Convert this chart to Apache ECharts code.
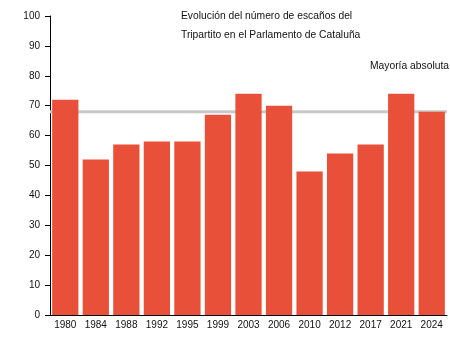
<!DOCTYPE html>
<html><head><meta charset="utf-8">
<script src="https://cdn.jsdelivr.net/npm/echarts@6/dist/echarts.min.js"></script>
<style>html,body{margin:0;padding:0;background:#fff}#c{width:450px;height:360px}</style>
</head><body><div id="c"></div>
<script>
var years = ['1980','1984','1988','1992','1995','1999','2003','2006','2010','2012','2017','2021','2024'];
var seats = [72,52,57,58,58,67,74,70,48,54,57,74,68];
var majority = 68;
var yTicks = {min:0, max:100, interval:10};
var titleLines = ['Evolución del número de escaños del','Tripartito en el Parlamento de Cataluña'];
var majorityLabel = 'Mayoría absoluta';
var FONT = '"Liberation Sans", Arial, sans-serif';
var chart = echarts.init(document.getElementById('c'), null, {renderer:'canvas'});
chart.setOption({
  animation:false,
  textStyle:{fontFamily:FONT},
  grid:{left:50, right:3, top:16, bottom:45},
  graphic:[
    {type:'text', left:181, top:11, style:{text:titleLines[0], fontSize:10.3, fontFamily:FONT, fill:'#111'}},
    {type:'text', left:181, top:30, style:{text:titleLines[1], fontSize:10.3, fontFamily:FONT, fill:'#111'}},
    {type:'text', right:1, top:61, style:{text:majorityLabel, fontSize:10.3, fontFamily:FONT, fill:'#111'}}
  ],
  xAxis:[{type:'category', data:years,
    axisLine:{lineStyle:{color:'#000', width:1}}, axisTick:{show:false},
    axisLabel:{interval:0, fontSize:10, color:'#111', margin:5, fontFamily:FONT}},
    {type:'value', min:0, max:1, show:false}],
  yAxis:{type:'value', min:yTicks.min, max:yTicks.max, interval:yTicks.interval,
    axisLine:{show:true, lineStyle:{color:'#000', width:1}},
    axisTick:{show:true, length:5, lineStyle:{color:'#000'}},
    splitLine:{show:false},
    axisLabel:{fontSize:10, color:'#111', margin:10, fontFamily:FONT}},
  series:[
    {type:'bar', data:seats, barCategoryGap:'14%', z:3,
      itemStyle:{color:'#e8503a'}},
    {type:'line', xAxisIndex:1, data:[[0,majority],[1,majority]], z:1, symbol:'none', silent:true,
      lineStyle:{color:'#c8c8c8', width:3}}
  ]
});
</script></body></html>
